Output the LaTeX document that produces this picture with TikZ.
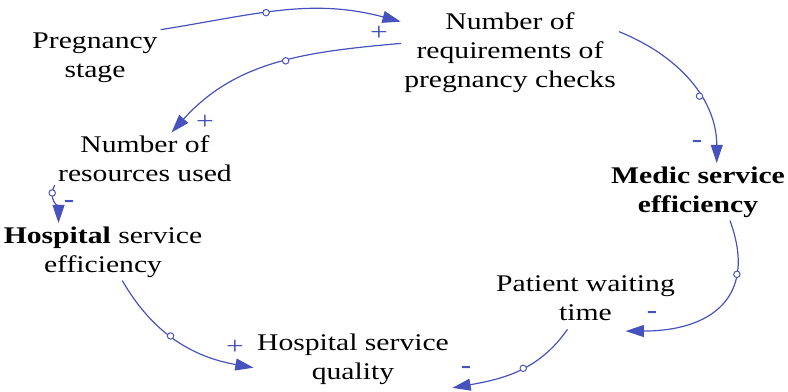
\documentclass[tikz,border=0pt]{standalone}
\usepackage{fontspec}
\setmainfont{Liberation Serif}[FakeStretch=1.24]
\usetikzlibrary{arrows.meta}
\definecolor{linkblue}{RGB}{72,82,190}
\begin{document}
\begin{tikzpicture}[x=0.025cm,y=0.025cm,line join=round,line cap=round,
	var/.style={align=center,inner sep=0pt,outer sep=2.5pt,font=\fontsize{17}{20.6}\selectfont},
	link/.style={draw=linkblue,line width=0.85pt,-{Triangle[length=13pt,width=8.5pt]},fill=none},
	circ/.style={circle,draw=linkblue,fill=white,line width=0.7pt,inner sep=0pt,minimum size=4.6pt},
	sign/.style={text=linkblue,inner sep=0pt,font=\fontsize{18}{18}\selectfont}]
	\useasboundingbox (0,0) rectangle (788,392);
	% cac bien
	\node[var] (preg) at (95,334) {Pregnancy\\stage};
	\node[var] (req) at (510,339) {Number of\\requirements of\\pregnancy checks};
	\node[var] (res) at (145,233) {Number of\\resources used};
	\node[var] (med) at (698,200) {\textbf{Medic service}\\\textbf{efficiency}};
	\node[var] (heff) at (103,140) {\textbf{Hospital} service\\efficiency};
	\node[var] (pat) at (585.5,94) {Patient waiting\\time};
	\node[var] (qual) at (353,33) {Hospital service\\quality};
	% cac mui ten
	\draw[link] (preg.north east) to[out=9,in=165] node[pos=.43,circ]{} (req.164);
	\draw[link] (req.175) to[out=185,in=48] node[pos=.45,circ]{} (res.45);
	\draw[link] (req.11) to[out=-22,in=90] node[pos=.6,circ]{} (med.57);
	\draw[link] (res.south west) to[out=-120,in=90] node[pos=.2,circ]{} (heff.147);
	\draw[link] (heff.-56) to[out=-60,in=170] node[pos=.45,circ]{} (qual.185);
	\draw[link] (med.-42) to[out=-70,in=0,looseness=1.4] node[pos=.27,circ]{} ([yshift=-5pt]pat.-33);
	\draw[link] ([yshift=-4pt]pat.-125) to[out=-125,in=10] node[pos=.45,circ]{} (qual.south east);
	% dau
	\node[sign] (s1) at (379,359) {+};
	\node[sign] (s2) at (205,270) {+};
	\node[sign] (s3) at (697,248) {\textbf{-}};
	\node[sign] (s4) at (69,188) {\textbf{-}};
	\node[sign] (s5) at (235,45) {+};
	\node[sign] (s6) at (652,77) {\textbf{-}};
	\node[sign] (s7) at (466,22) {\textbf{-}};
\end{tikzpicture}
\end{document}
